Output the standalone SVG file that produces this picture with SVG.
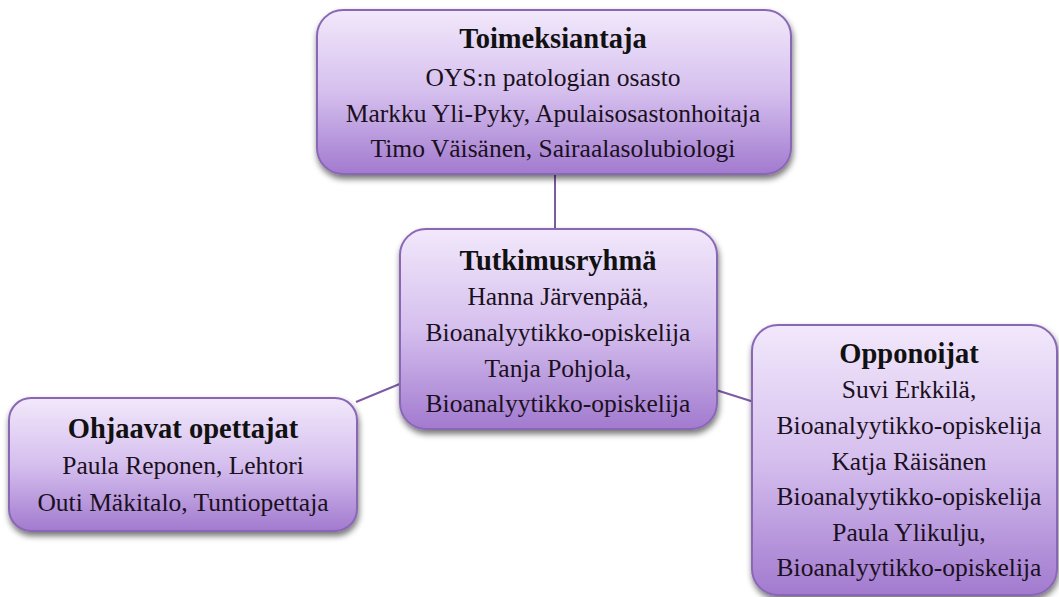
<svg xmlns="http://www.w3.org/2000/svg" width="1059" height="597" viewBox="0 0 1059 597">
<defs>
<linearGradient id="g" x1="0" y1="0" x2="0" y2="1">
<stop offset="0" stop-color="#f2e8fb"/>
<stop offset="0.5" stop-color="#d5bfee"/>
<stop offset="1" stop-color="#a27acf"/>
</linearGradient>
<filter id="sh" x="-10%" y="-10%" width="120%" height="130%">
<feGaussianBlur in="SourceAlpha" stdDeviation="3"/>
<feOffset dx="1" dy="4" result="b"/>
<feComponentTransfer><feFuncA type="linear" slope="0.55"/></feComponentTransfer>
<feMerge><feMergeNode/><feMergeNode in="SourceGraphic"/></feMerge>
</filter>
</defs>
<style>
.box{fill:url(#g);stroke:#8a66b6;stroke-width:2;filter:url(#sh)}
.t{font-family:"Liberation Serif","Times New Roman",serif;font-size:28.5px;font-weight:bold;fill:#111;text-anchor:middle}
.b{font-family:"Liberation Serif","Times New Roman",serif;font-size:25.5px;fill:#1a1020;text-anchor:middle}
.c{stroke:#7d5aa6;stroke-width:2;fill:none}
</style>
<rect width="1059" height="597" fill="#ffffff"/>
<g id="connectors">
<line class="c" x1="555" y1="175" x2="555" y2="230"/>
<line class="c" x1="356" y1="402" x2="402" y2="383"/>
<line class="c" x1="716" y1="390" x2="754" y2="402"/>
</g>
<g id="toimeksiantaja">
<rect class="box" x="317" y="10" width="474" height="164" rx="26"/>
<text class="t" x="553" y="48">Toimeksiantaja</text>
<text class="b" x="553" y="86">OYS:n patologian osasto</text>
<text class="b" x="553" y="122">Markku Yli-Pyky, Apulaisosastonhoitaja</text>
<text class="b" x="553" y="157">Timo Väisänen, Sairaalasolubiologi</text>
</g>
<g id="tutkimusryhma">
<rect class="box" x="400" y="229" width="317" height="200" rx="26"/>
<text class="t" x="558" y="270">Tutkimusryhmä</text>
<text class="b" x="558" y="305">Hanna Järvenpää,</text>
<text class="b" x="558" y="341">Bioanalyytikko-opiskelija</text>
<text class="b" x="558" y="377">Tanja Pohjola,</text>
<text class="b" x="558" y="412">Bioanalyytikko-opiskelija</text>
</g>
<g id="ohjaavat">
<rect class="box" x="9" y="398" width="348" height="133" rx="22"/>
<text class="t" x="183" y="438">Ohjaavat opettajat</text>
<text class="b" x="183" y="474">Paula Reponen, Lehtori</text>
<text class="b" x="183" y="511">Outi Mäkitalo, Tuntiopettaja</text>
</g>
<g id="opponoijat">
<rect class="box" x="752" y="325" width="305" height="270" rx="26"/>
<text class="t" x="909" y="363">Opponoijat</text>
<text class="b" x="909" y="398">Suvi Erkkilä,</text>
<text class="b" x="909" y="434">Bioanalyytikko-opiskelija</text>
<text class="b" x="909" y="470">Katja Räisänen</text>
<text class="b" x="909" y="505">Bioanalyytikko-opiskelija</text>
<text class="b" x="909" y="541">Paula Ylikulju,</text>
<text class="b" x="909" y="576">Bioanalyytikko-opiskelija</text>
</g>
</svg>
